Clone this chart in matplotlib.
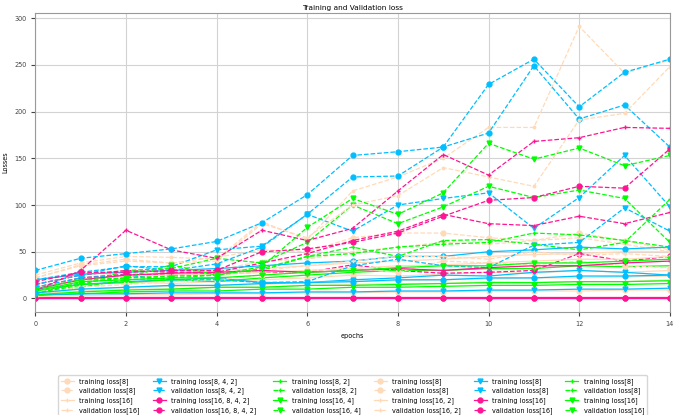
import matplotlib
matplotlib.use('Agg')
import matplotlib.pyplot as plt

# ___ DATA ___
epochs = list(range(15))

model_names = ['[8]', '[16]', '[24]',
               '[8, 4, 2]', '[16, 8, 4, 2]', '[24, 12, 6, 2]',
               '[8, 2]', '[16, 4]', '[24, 6]',
               '[8]', '[16, 2]', '[24, 2]',
               '[8]', '[16]', '[24]',
               '[8]', '[16]', '[24]']

train_loss = [
    [10, 15, 18, 16, 18, 20, 22, 25, 24, 26, 28, 27, 30, 28, 30],
    [5, 8, 10, 10, 12, 12, 14, 15, 16, 16, 18, 17, 18, 18, 20],
    [15, 25, 30, 28, 30, 32, 35, 38, 40, 42, 45, 47, 48, 50, 50],
    [10, 15, 18, 20, 22, 17, 17, 20, 22, 25, 24, 28, 30, 28, 25],
    [0, 0, 0, 0, 0, 0, 0, 0, 0, 0, 0, 0, 0, 0, 0],
    [2, 2, 2, 2, 2, 2, 2, 2, 2, 2, 2, 2, 2, 2, 2],
    [8, 15, 17, 20, 18, 22, 25, 28, 30, 30, 32, 32, 35, 34, 35],
    [3, 5, 7, 8, 8, 10, 10, 12, 12, 13, 14, 14, 15, 15, 16],
    [20, 26, 28, 30, 32, 35, 38, 40, 45, 45, 50, 52, 55, 53, 55],
    [2, 3, 4, 4, 5, 5, 6, 6, 7, 7, 8, 8, 8, 9, 9],
    [6, 10, 12, 13, 14, 15, 17, 18, 19, 20, 21, 22, 22, 23, 24],
    [12, 20, 24, 25, 26, 28, 30, 32, 35, 36, 38, 40, 42, 42, 45],
    [4, 5, 5, 6, 6, 6, 7, 7, 8, 8, 9, 9, 10, 10, 11],
    [0, 0, 0, 0, 0, 0, 0, 0, 0, 0, 0, 0, 0, 0, 0],
    [10, 20, 25, 27, 28, 30, 28, 30, 32, 30, 33, 35, 35, 38, 40],
    [4, 7, 9, 10, 12, 12, 14, 14, 15, 16, 17, 17, 18, 18, 19],
    [8, 18, 20, 22, 22, 25, 28, 30, 33, 35, 35, 38, 38, 40, 42],
    [6, 10, 12, 14, 14, 16, 17, 18, 20, 20, 22, 22, 24, 24, 25],
]

val_loss = [
    [22, 36, 42, 38, 44, 52, 50, 65, 70, 70, 65, 62, 70, 62, 52],
    [10, 22, 28, 30, 30, 40, 42, 50, 55, 60, 58, 62, 65, 58, 50],
    [25, 38, 45, 44, 42, 82, 63, 115, 130, 150, 183, 183, 291, 241, 255],
    [20, 28, 34, 34, 52, 56, 90, 72, 100, 107, 113, 75, 108, 153, 98],
    [12, 22, 26, 25, 27, 28, 28, 36, 30, 27, 28, 30, 48, 40, 45],
    [15, 25, 30, 28, 28, 38, 48, 62, 72, 90, 80, 78, 88, 80, 92],
    [5, 12, 20, 22, 25, 30, 45, 48, 55, 58, 60, 70, 68, 62, 55],
    [6, 14, 30, 32, 43, 38, 60, 100, 80, 98, 120, 108, 116, 107, 60],
    [15, 25, 35, 30, 37, 55, 90, 130, 131, 162, 177, 249, 192, 207, 162],
    [5, 12, 15, 18, 20, 25, 30, 32, 28, 40, 38, 36, 40, 35, 33],
    [8, 18, 22, 25, 25, 30, 35, 40, 45, 45, 42, 50, 46, 48, 45],
    [22, 35, 40, 38, 40, 80, 65, 100, 110, 140, 130, 120, 191, 198, 248],
    [12, 22, 25, 20, 20, 17, 18, 35, 42, 35, 33, 57, 60, 97, 72],
    [18, 28, 28, 30, 30, 50, 53, 60, 70, 88, 105, 108, 120, 118, 160],
    [8, 30, 73, 52, 43, 73, 62, 75, 115, 154, 132, 168, 172, 183, 182],
    [10, 20, 22, 24, 25, 32, 45, 55, 45, 62, 63, 58, 52, 60, 106],
    [5, 17, 22, 36, 25, 34, 76, 107, 90, 113, 166, 149, 161, 142, 153],
    [30, 43, 48, 53, 61, 81, 111, 153, 157, 162, 229, 256, 205, 242, 256],
]

colors = ['peachpuff', 'peachpuff', 'peachpuff',
          'deepskyblue', 'deeppink', 'deeppink',
          'lime', 'lime', 'deepskyblue',
          'peachpuff', 'peachpuff', 'peachpuff',
          'deepskyblue', 'deeppink', 'deeppink',
          'lime', 'lime', 'deepskyblue']
markers = ['o', '+', '.', 'v', 'o', '+', '+', 'v', 'o',
           'o', '+', '.', 'v', 'o', '+', '+', 'v', 'o']

# ___ PLOT ___
plt.rcParams['font.size'] = 4.7
fig = plt.figure(figsize=(6.78, 4.15), dpi=100)
ax = fig.add_axes([0.052, 0.248, 0.936, 0.721])

for i in range(len(model_names)):
    ax.plot(epochs, train_loss[i], color=colors[i], marker=markers[i], markersize=3.5,
            linewidth=0.9, linestyle='-', label='training loss' + model_names[i])
    ax.plot(epochs, val_loss[i], color=colors[i], marker=markers[i], markersize=3.5,
            linewidth=0.9, linestyle='--', label='validation loss' + model_names[i])

ax.set_xlim(0, 14)
ax.set_xticks(range(0, 15, 2))
ax.grid(True, color='#d3d3d3', linewidth=0.8)
ax.set_axisbelow(True)
for s in ax.spines.values():
    s.set_color('#999999')
ax.tick_params(colors='#444444', labelsize=4.7, length=3)
ax.set_title('Training and Validation loss', fontsize=5.3, pad=2)
ax.set_xlabel('epochs', fontsize=4.7)
ax.set_ylabel('Losses', fontsize=4.7)

fig.legend(loc='upper center', bbox_to_anchor=(0.52, 1 - 372 / 415), ncol=6,
           fontsize=4.7, frameon=True, handlelength=2.0, columnspacing=2.0,
           labelspacing=0.45)

fig.savefig('out.png', dpi=100)
